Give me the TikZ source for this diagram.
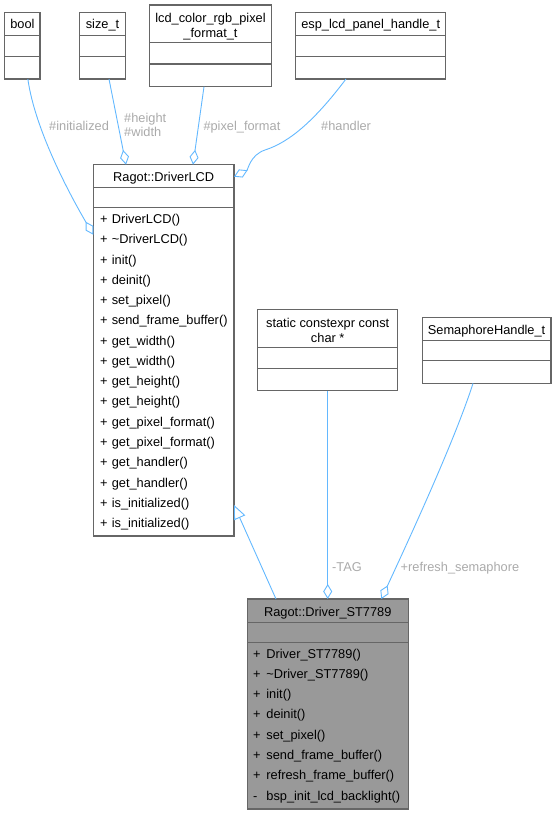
\documentclass[tikz,border=0pt]{standalone}
\usepackage{fontspec}
\setmainfont{Liberation Sans}
\usetikzlibrary{arrows.meta}
\definecolor{edgeblue}{HTML}{63B8FF}
\definecolor{boxgray}{HTML}{666666}
\definecolor{labelgray}{HTML}{AAAAAA}
\definecolor{basefill}{HTML}{999999}
\tikzset{
  cls/.style={draw=boxgray, line width=1.1pt, fill=white, inner sep=0pt, outer sep=0pt, anchor=north west},
  sep/.style={draw=boxgray, line width=1.1pt},
  ttl/.style={inner sep=0pt, anchor=base, font=\fontsize{12.8}{14.8}\selectfont},
  memb/.style={inner sep=0pt, anchor=base west, font=\fontsize{12.8}{14.8}\selectfont},
  rel/.style={draw=edgeblue, line width=0.9pt},
  agg/.style={rel, -{Diamond[open, length=15pt, width=9pt]}},
  inh/.style={rel, -{Triangle[open, length=14pt, width=12pt]}},
  lbl/.style={inner sep=0pt, anchor=base west, text=labelgray, font=\fontsize{12.8}{14.8}\selectfont},
}
\begin{document}
\begin{tikzpicture}[x=1pt,y=-1pt]
  \useasboundingbox (0,0) rectangle (556,813);

  % member types
  \node[cls, minimum width=35.3pt, minimum height=66.3pt] (bool) at (4.7,12.7) {};
  \draw[sep] (4.7,35.7) -- (40,35.7) (4.7,56.7) -- (40,56.7);
  \node[ttl] (booltitle) at (22.4,29) {bool};

  \node[cls, minimum width=46.4pt, minimum height=66.3pt] (size) at (79.3,12.7) {};
  \draw[sep] (79.3,35.7) -- (125.7,35.7) (79.3,56.7) -- (125.7,56.7);
  \node[ttl] (sizetitle) at (102.5,29) {size\_t};

  \node[cls, minimum width=122.4pt, minimum height=81.7pt] (pixfmt) at (149.3,5) {};
  \draw[sep] (149.3,42.7) -- (271.7,42.7) (149.3,64) -- (271.7,64);
  \node[ttl] (pixfmttitle) at (210.5,22.4) {lcd\_color\_rgb\_pixel};
  \node[ttl] (pixfmttitle2) at (210.5,37.2) {\_format\_t};

  \node[cls, minimum width=150pt, minimum height=66.3pt] (panel) at (295.7,12.7) {};
  \draw[sep] (295.7,35.7) -- (445.7,35.7) (295.7,56.3) -- (445.7,56.3);
  \node[ttl] (paneltitle) at (370.7,29) {esp\_lcd\_panel\_handle\_t};

  % base class
  \node[cls, minimum width=140.7pt, minimum height=371.3pt] (lcd) at (93.3,164.7) {};
  \draw[sep] (93.3,187.7) -- (234,187.7) (93.3,207.7) -- (234,207.7);
  \node[ttl] (lcdtitle) at (163.7,181.7) {Ragot::DriverLCD};
  \foreach \m [count=\i from 0] in {DriverLCD(), \textasciitilde DriverLCD(), init(), deinit(),
      set\_pixel(), send\_frame\_buffer(), get\_width(), get\_width(), get\_height(), get\_height(),
      get\_pixel\_format(), get\_pixel\_format(), get\_handler(), get\_handler(),
      is\_initialized(), is\_initialized()}
    \node[memb] (lcdop\i) at (100,{223.5+20.27*\i}) {\makebox[11.6pt][l]{+}\m};

  \node[cls, minimum width=140pt, minimum height=81.4pt] (tag) at (257.7,309.3) {};
  \draw[sep] (257.7,347.7) -- (397.7,347.7) (257.7,368.3) -- (397.7,368.3);
  \node[ttl] (tagtitle) at (327.7,327.4) {static constexpr const};
  \node[ttl] (tagtitle2) at (327.7,342.2) {char *};

  \node[cls, minimum width=128.7pt, minimum height=66pt] (sem) at (422.3,317.3) {};
  \draw[sep] (422.3,340.7) -- (551,340.7) (422.3,360.7) -- (551,360.7);
  \node[ttl] (semtitle) at (486.6,334.5) {SemaphoreHandle\_t};

  % derived class
  \node[cls, fill=basefill, minimum width=161pt, minimum height=210pt] (drv) at (247.3,599) {};
  \draw[sep] (247.3,622.3) -- (408.3,622.3) (247.3,642.3) -- (408.3,642.3);
  \node[ttl] (drvtitle) at (327.8,616) {Ragot::Driver\_ST7789};
  \foreach \v/\m [count=\i from 0] in {+/Driver\_ST7789(), +/\textasciitilde Driver\_ST7789(), +/init(),
      +/deinit(), +/set\_pixel(), +/send\_frame\_buffer(), +/refresh\_frame\_buffer(),
      -/bsp\_init\_lcd\_backlight()}
    \node[memb] (drvop\i) at (252.8,{658+20.3*\i}) {\makebox[13.4pt][l]{\v}\m};

  % relations
  \draw[agg] ([xshift=5.5pt]bool.south) .. controls (35,130) and (70,195) .. ([yshift=-70pt]lcd.north west);
  \node[lbl] (initlbl) at (49,130.5) {\#initialized};

  \draw[agg] ([xshift=6.5pt]size.south) -- ([xshift=32.7pt]lcd.north west);
  \node[lbl] (heightlbl) at (124,122.5) {\#height};
  \node[lbl] (widthlbl) at (124,137) {\#width};

  \draw[agg] ([xshift=-6.5pt]pixfmt.south) -- ([xshift=99.7pt]lcd.north west);
  \node[lbl] (pixlbl) at (203.3,130.5) {\#pixel\_format};

  \draw[agg] ([xshift=-24.7pt]panel.south) .. controls (315,120) and (290,142) .. (265,150)
    .. controls (250,155) and (248,170) .. ([yshift=-12pt]lcd.north east);
  \node[lbl] (handlerlbl) at (321,130.5) {\#handler};

  \draw[inh] ([xshift=28.7pt]drv.north west) -- ([yshift=31pt]lcd.south east);

  \draw[agg] (tag.south) -- (tag.south |- drv.north);
  \node[lbl] (taglbl) at (332,571.5) {-TAG};

  \draw[agg] ([xshift=-13.6pt]sem.south) .. controls (458,430) and (425,505) .. ([xshift=-27pt]drv.north east);
  \node[lbl] (semlbl) at (400.5,571.5) {+refresh\_semaphore};
\end{tikzpicture}
\end{document}
